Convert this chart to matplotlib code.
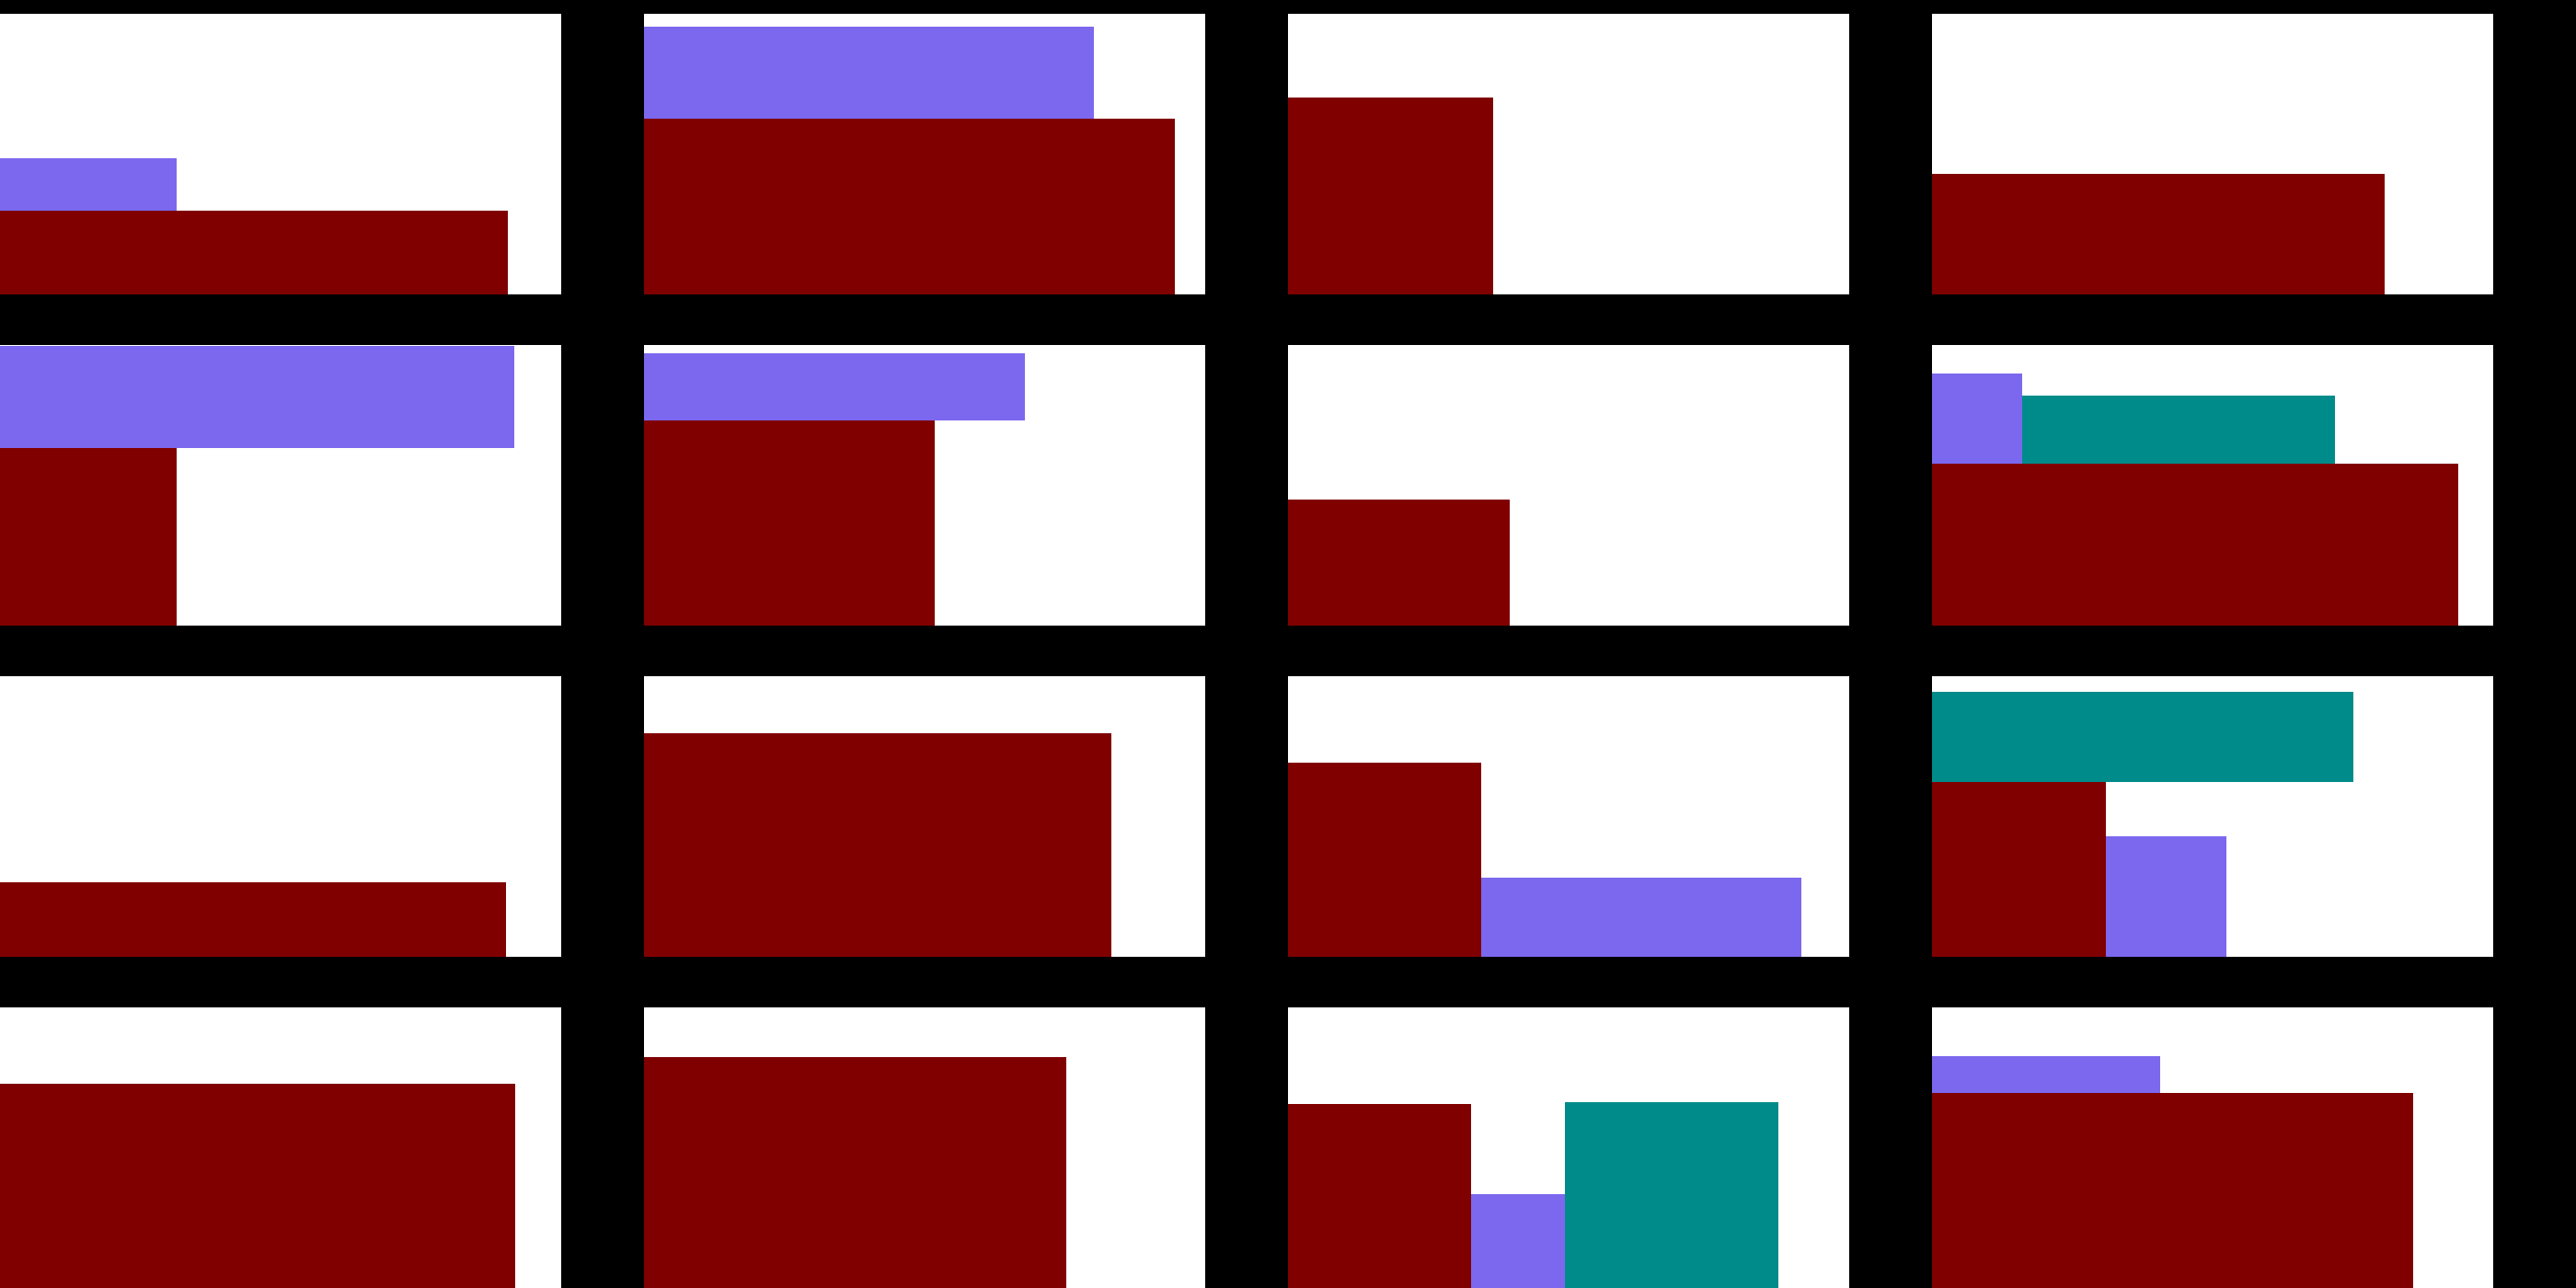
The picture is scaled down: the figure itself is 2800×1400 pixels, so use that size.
import numpy as np
from matplotlib import pyplot as plt

## colours
RED = '#800000'
PURPLE = '#7b68ee'
TEAL = '#008b8b'

## panel grid (4 x 4), panels numbered row by row
n_rows, n_cols = 4, 4

# red block: always sits at the lower left corner (percent of panel)
red_width = [90.5, 94.6, 36.6, 80.7,
             31.5, 51.8, 39.5, 93.8,
             90.2, 83.2, 34.4, 31.0,
             91.8, 75.3, 32.7, 85.7]
red_height = [29.7, 62.5, 70.1, 42.8,
              63.2, 73.0, 44.9, 57.7,
              26.4, 79.7, 69.1, 62.3,
              72.7, 82.3, 65.5, 69.4]

# purple block (nan = no block in that panel)
nan = np.nan
purple_left = [0.0, 0.0, nan, nan,
               0.0, 0.0, nan, 0.0,
               nan, nan, 34.4, 31.0,
               nan, nan, 32.7, 0.0]
purple_width = [31.5, 80.2, nan, nan,
                91.7, 67.8, nan, 16.0,
                nan, nan, 57.1, 21.4,
                nan, nan, 16.7, 40.6]
purple_bottom = [29.7, 62.5, nan, nan,
                 63.2, 73.0, nan, 57.7,
                 nan, nan, 0.0, 0.0,
                 nan, nan, 0.0, 69.4]
purple_height = [18.8, 33.0, nan, nan,
                 36.6, 24.2, nan, 32.0,
                 nan, nan, 28.1, 42.8,
                 nan, nan, 33.3, 13.2]

# teal block
teal_left = [nan, nan, nan, nan,
             nan, nan, nan, 16.0,
             nan, nan, nan, 0.0,
             nan, nan, 49.3, nan]
teal_width = [nan, nan, nan, nan,
              nan, nan, nan, 55.8,
              nan, nan, nan, 75.1,
              nan, nan, 38.1, nan]
teal_bottom = [nan, nan, nan, nan,
               nan, nan, nan, 57.7,
               nan, nan, nan, 62.3,
               nan, nan, 0.0, nan]
teal_height = [nan, nan, nan, nan,
               nan, nan, nan, 24.2,
               nan, nan, nan, 32.1,
               nan, nan, 66.1, nan]


def draw_block(ax, left, width, bottom, height, color):
    if np.isnan(width):
        return
    ax.bar(left, height, width=width, bottom=bottom, align='edge',
           color=color, linewidth=0)


fig = plt.figure(figsize=(28, 14), dpi=100)
fig.patch.set_facecolor('black')

W, H = 2800.0, 1400.0
for i in range(n_rows * n_cols):
    r, c = divmod(i, n_cols)
    x0 = 700 * c
    y_top = 15 + 360 * r
    ax = fig.add_axes([x0 / W, (H - (y_top + 305)) / H, 610 / W, 305 / H])
    ax.set_facecolor('white')

    draw_block(ax, 0.0, red_width[i], 0.0, red_height[i], RED)
    draw_block(ax, purple_left[i], purple_width[i], purple_bottom[i], purple_height[i], PURPLE)
    draw_block(ax, teal_left[i], teal_width[i], teal_bottom[i], teal_height[i], TEAL)

    ax.set_xlim(0, 100)
    ax.set_ylim(0, 100)
    ax.set_xticks([])
    ax.set_yticks([])
    for s in ax.spines.values():
        s.set_visible(False)

fig.savefig('out.png', dpi=100, facecolor=fig.get_facecolor())
